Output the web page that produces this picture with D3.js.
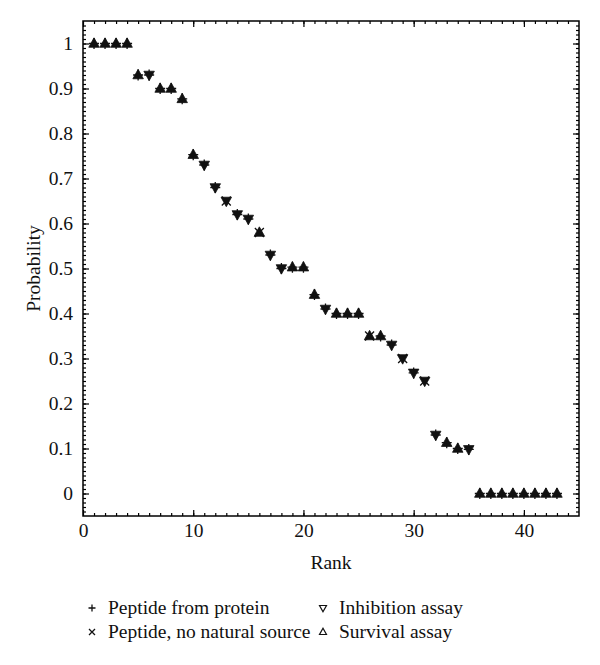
<!DOCTYPE html>
<html><head><meta charset="utf-8">
<script src="https://cdn.jsdelivr.net/npm/d3@7"></script>
<style>body{margin:0;background:#fff;} svg{display:block;}</style>
</head><body>
<script>
const ranks = d3.range(1, 44);
const probability = [1,1,1,1,0.93,0.93,0.90,0.90,0.877,0.753,
  0.73,0.68,0.65,0.62,0.61,0.58,0.53,0.50,0.503,0.503,
  0.442,0.41,0.40,0.40,0.40,0.35,0.35,0.33,0.30,0.268,
  0.25,0.13,0.113,0.10,0.098,0,0,0,0,0,0,0,0];
// assay: "I" inhibition (down triangle), "S" survival (up triangle)
const assay = ["S","S","S","S","S","I","S","S","S","S",
  "I","I","I","I","I","S","I","I","S","S",
  "S","I","S","S","S","S","S","I","I","I",
  "I","I","S","S","I","S","S","S","S","S","S","S","S"];
// source: "P" peptide from protein (+), "N" no natural source (x)
const source = ["P","P","P","P","P","P","P","P","P","P",
  "P","P","N","P","P","N","P","P","P","P",
  "P","P","P","P","P","N","P","P","N","P",
  "N","P","P","P","P","P","P","P","P","P","P","P","P"];
const xTicks = [0,10,20,30,40];
const yTicks = [0,0.1,0.2,0.3,0.4,0.5,0.6,0.7,0.8,0.9,1];
const yTickLabels = ["0","0.1","0.2","0.3","0.4","0.5","0.6","0.7","0.8","0.9","1"];
const legendItems = [
  {label:"Peptide from protein", sym:"plus"},
  {label:"Inhibition assay", sym:"down"},
  {label:"Peptide, no natural source", sym:"cross"},
  {label:"Survival assay", sym:"up"}
];

const W = 600, H = 665;
const m = {l:83, r:21, t:21, b:149};
const FS = 19.5;
const svg = d3.select("body").append("svg").attr("width", W).attr("height", H);
svg.append("rect").attr("width", W).attr("height", H).attr("fill", "#fff");
const x = d3.scaleLinear().domain([0,45]).range([m.l, W-m.r]);
const y = d3.scaleLinear().domain([-0.05,1.05]).range([H-m.b, m.t]);
const font = "'Liberation Serif', 'DejaVu Serif', serif";

function styleAxis(g){
  g.select(".domain").remove();
  g.selectAll("line").attr("stroke","#000").attr("stroke-width",1.2);
  g.selectAll("text").attr("font-family",font).attr("font-size",FS).attr("fill","#111");
}
const bottomY = y.range()[0], topY = y.range()[1];
const leftX = x.range()[0], rightX = x.range()[1];
const xMinor = d3.range(1,45);
const yMinor = d3.range(-4,105).map(d=>d/100);

svg.append("g").attr("transform",`translate(0,${bottomY})`)
  .call(d3.axisBottom(x).tickValues(xMinor).tickSize(-3).tickFormat("")).call(styleAxis);
svg.append("g").attr("transform",`translate(0,${bottomY})`)
  .call(d3.axisBottom(x).tickValues(xTicks).tickSizeInner(-6).tickSizeOuter(0).tickPadding(7).tickFormat(d3.format("d"))).call(styleAxis);
svg.append("g").attr("transform",`translate(0,${topY})`)
  .call(d3.axisTop(x).tickValues(xMinor).tickSize(-3).tickFormat("")).call(styleAxis);
svg.append("g").attr("transform",`translate(0,${topY})`)
  .call(d3.axisTop(x).tickValues(xTicks).tickSize(-6).tickFormat("")).call(styleAxis);
svg.append("g").attr("transform",`translate(${leftX},0)`)
  .call(d3.axisLeft(y).tickValues(yMinor).tickSize(-3).tickFormat("")).call(styleAxis);
svg.append("g").attr("transform",`translate(${leftX},0)`)
  .call(d3.axisLeft(y).tickValues(yTicks).tickSizeInner(-6).tickSizeOuter(0).tickPadding(10)
    .tickFormat((d,i)=>yTickLabels[i])).call(styleAxis);
svg.append("g").attr("transform",`translate(${rightX},0)`)
  .call(d3.axisRight(y).tickValues(yMinor).tickSize(-3).tickFormat("")).call(styleAxis);
svg.append("g").attr("transform",`translate(${rightX},0)`)
  .call(d3.axisRight(y).tickValues(yTicks).tickSize(-6).tickFormat("")).call(styleAxis);

svg.append("rect").attr("x",leftX).attr("y",topY).attr("width",rightX-leftX).attr("height",bottomY-topY)
  .attr("fill","none").attr("stroke","#000").attr("stroke-width",1.5);

svg.append("text").attr("x",(leftX+rightX)/2).attr("y",569).attr("text-anchor","middle")
  .attr("font-family",font).attr("font-size",FS).attr("fill","#111").text("Rank");
svg.append("text").attr("transform",`translate(40,${(topY+bottomY)/2}) rotate(-90)`).attr("text-anchor","middle")
  .attr("font-family",font).attr("font-size",FS).attr("fill","#111").text("Probability");

function triPath(dir, s){
  const h = s*0.9;
  return dir==="up"
    ? `M0,${-h*0.6}L${s/2},${h*0.4}L${-s/2},${h*0.4}Z`
    : `M0,${h*0.6}L${s/2},${-h*0.4}L${-s/2},${-h*0.4}Z`;
}
const data = ranks.map((r,i)=>({r, p:probability[i], a:assay[i], s:source[i]}));
const pts = svg.append("g").selectAll("g").data(data).join("g")
  .attr("transform",d=>`translate(${x(d.r)},${y(d.p)})`);
pts.append("path").attr("d",d=>triPath(d.a==="S"?"up":"down",10.5)).attr("fill","#111").attr("stroke","#111").attr("stroke-width",0.8);
pts.append("path").attr("d",d=>d.s==="P" ? "M0,-5.5L0,5.5M-5,0L5,0" : "M-4.5,-4.5L4.5,4.5M-4.5,4.5L4.5,-4.5")
  .attr("stroke","#111").attr("stroke-width",1.3).attr("fill","none");

const lx = [92, 323], ly = [614, 638];
legendItems.forEach((it,i)=>{
  const col = i%2, row = Math.floor(i/2);
  const g = svg.append("g").attr("transform",`translate(${lx[col]},${ly[row]-6})`);
  if(it.sym==="plus") g.append("path").attr("d","M0,-3.5L0,3.5M-3.5,0L3.5,0").attr("stroke","#111").attr("stroke-width",1.3);
  else if(it.sym==="cross") g.append("path").attr("d","M-3,-3L3,3M-3,3L3,-3").attr("stroke","#111").attr("stroke-width",1.3);
  else g.append("path").attr("d",triPath(it.sym,7)).attr("fill","none").attr("stroke","#111").attr("stroke-width",1.2);
  svg.append("text").attr("x",lx[col]+16).attr("y",ly[row]).attr("font-family",font).attr("font-size",FS)
    .attr("fill","#111").text(it.label);
});
</script>
</body></html>
